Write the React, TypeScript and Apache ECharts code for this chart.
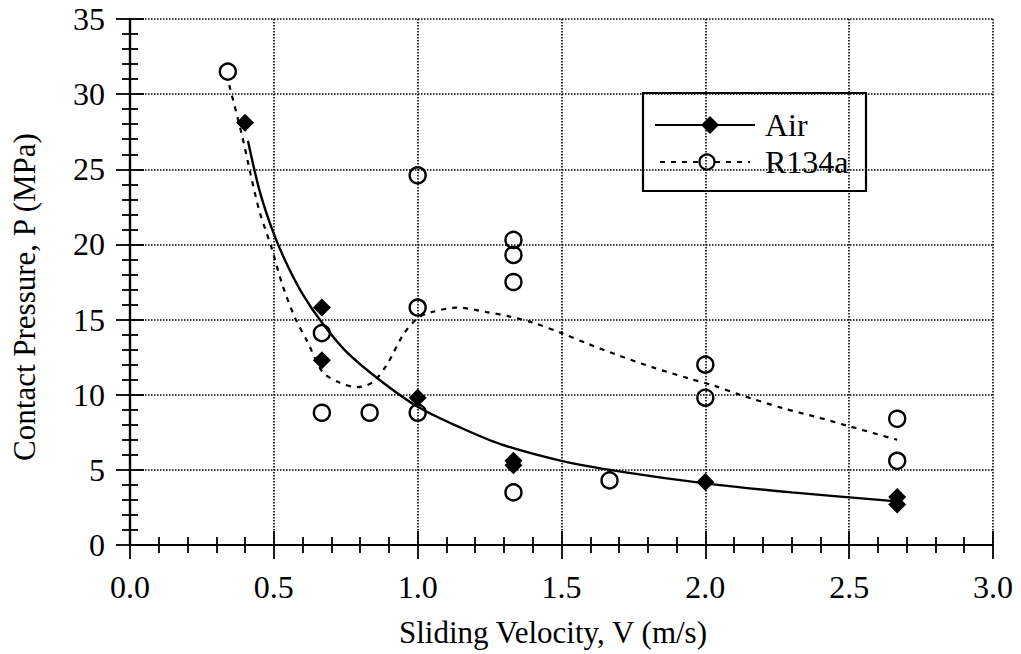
import React, { useEffect, useRef } from "react";
import * as echarts from "echarts";

// Measured data points
const airV = [0.4, 0.667, 0.667, 1.0, 1.333, 1.333, 2.0, 2.667, 2.667];
const airP = [28.1, 15.8, 12.3, 9.8, 5.6, 5.3, 4.2, 3.2, 2.7];

const r134V = [0.34, 0.667, 0.667, 0.833, 1.0, 1.0, 1.0, 1.333, 1.333, 1.333, 1.333, 1.667, 2.0, 2.0, 2.667, 2.667];
const r134P = [31.5, 14.1, 8.8, 8.8, 24.6, 15.8, 8.8, 20.3, 19.3, 17.5, 3.5, 4.3, 12.0, 9.8, 8.4, 5.6];

// Fitted curves
const airFitV = [0.41, 0.45, 0.5, 0.55, 0.6, 0.667, 0.75, 0.86, 1.0, 1.15, 1.29, 1.5, 1.7, 2.0, 2.3, 2.667];
const airFitP = [26.9, 23.6, 20.7, 18.5, 16.7, 14.8, 12.9, 11.1, 9.2, 7.8, 6.7, 5.6, 4.9, 4.1, 3.5, 2.9];

const r134FitV = [0.345, 0.39, 0.42, 0.45, 0.49, 0.53, 0.574, 0.615, 0.67, 0.73, 0.79, 0.845, 0.893, 0.95, 1.0, 1.05, 1.137, 1.24, 1.32, 1.4, 1.5, 1.59, 1.7, 1.82, 1.94, 2.03, 2.12, 2.27, 2.39, 2.5, 2.667];
const r134FitP = [30.6, 27.2, 24.6, 22.2, 19.9, 17.3, 15.1, 13.6, 11.5, 10.8, 10.5, 10.85, 12.0, 14.0, 15.1, 15.5, 15.8, 15.5, 15.2, 14.8, 14.1, 13.4, 12.6, 11.8, 11.1, 10.6, 10.0, 9.1, 8.5, 7.9, 7.0];

const xTitle = "Sliding Velocity, V (m/s)";
const yTitle = "Contact Pressure, P (MPa)";
const legendNames = ["Air", "R134a"];

const FONT = "Liberation Serif, Times New Roman, serif";

const zip = (xs: number[], ys: number[]) => xs.map((x, i) => [x, ys[i]]);

export default function App() {
  const ref = useRef<HTMLDivElement>(null);
  useEffect(() => {
    const chart = echarts.init(ref.current!, null, { renderer: "svg" });
    const axisLine = { show: true, lineStyle: { color: "#000", width: 2.2 } };
    const axisTick = { show: true, inside: true, length: 14, lineStyle: { color: "#000", width: 1.8 } };
    const minorTick = { show: true, splitNumber: 5, length: 8, lineStyle: { color: "#000", width: 1.8 } };
    const splitLine = { show: true, lineStyle: { color: "#000", width: 1.6, type: [1.5, 1.5] } };
    const label = { color: "#000", fontSize: 32, fontFamily: FONT };

    chart.setOption({
      animation: false,
      backgroundColor: "#fff",
      grid: { left: 130, right: 28, top: 19, bottom: 109, containLabel: false },
      xAxis: [
        {
          type: "value", min: 0, max: 3, interval: 0.5, position: "bottom",
          axisLine, axisTick, minorTick, splitLine,
          minorSplitLine: { show: false },
          axisLabel: { ...label, margin: 26, formatter: (v: number) => v.toFixed(1) },
        },
        {
          type: "value", min: 0, max: 3, interval: 0.5, position: "top",
          axisLine, axisTick, minorTick, splitLine: { show: false },
          axisLabel: { show: false },
        },
      ],
      yAxis: [
        {
          type: "value", min: 0, max: 35, interval: 5, position: "left",
          axisLine, axisTick, minorTick, splitLine,
          minorSplitLine: { show: false },
          axisLabel: { ...label, margin: 25 },
        },
        {
          type: "value", min: 0, max: 35, interval: 5, position: "right",
          axisLine, axisTick, minorTick, splitLine: { show: false },
          axisLabel: { show: false },
        },
      ],
      series: [
        {
          type: "line", name: "Air fit", data: zip(airFitV, airFitP),
          showSymbol: false, smooth: 0.3, silent: true,
          lineStyle: { color: "#000", width: 2.4 },
        },
        {
          type: "line", name: "R134a fit", data: zip(r134FitV, r134FitP),
          showSymbol: false, smooth: 0.3, silent: true,
          lineStyle: { color: "#000", width: 2.2, type: [5, 6] },
        },
        {
          type: "scatter", name: legendNames[0], data: zip(airV, airP),
          symbol: "diamond", symbolSize: 18,
          itemStyle: { color: "#000", opacity: 1 }, z: 5,
        },
        {
          type: "scatter", name: legendNames[1], data: zip(r134V, r134P),
          symbol: "circle", symbolSize: 16,
          itemStyle: { color: "rgba(0,0,0,0)", borderColor: "#000", borderWidth: 2.4, opacity: 1 }, z: 5,
        },
      ],
      graphic: [
        {
          type: "text", x: 24, y: 297, rotation: Math.PI / 2,
          style: { text: yTitle, fontSize: 31, fontFamily: FONT, fill: "#000", align: "center", verticalAlign: "middle" },
        },
        {
          type: "text", x: 553, y: 632,
          style: { text: xTitle, fontSize: 31, fontFamily: FONT, fill: "#000", align: "center", verticalAlign: "middle" },
        },
        {
          type: "group", z: 100,
          children: [
            { type: "rect", shape: { x: 643, y: 93, width: 223, height: 98 }, style: { fill: "#fff", stroke: "#000", lineWidth: 2.2 } },
            { type: "line", shape: { x1: 655, y1: 125, x2: 755, y2: 125 }, style: { stroke: "#000", lineWidth: 2.2 } },
            { type: "polygon", shape: { points: [[710, 116], [719, 125], [710, 134], [701, 125]] }, style: { fill: "#000" } },
            { type: "text", x: 765, y: 125, style: { text: legendNames[0], fontSize: 32, fontFamily: FONT, fill: "#000", align: "left", verticalAlign: "middle" } },
            { type: "line", shape: { x1: 660, y1: 162, x2: 750, y2: 162 }, style: { stroke: "#000", lineWidth: 2, lineDash: [5, 6] } },
            { type: "circle", shape: { cx: 707, cy: 162, r: 7.5 }, style: { fill: "#fff", stroke: "#000", lineWidth: 2.2 } },
            { type: "text", x: 765, y: 162, style: { text: legendNames[1], fontSize: 32, fontFamily: FONT, fill: "#000", align: "left", verticalAlign: "middle" } },
          ],
        },
      ],
    });
    return () => chart.dispose();
  }, []);
  return <div ref={ref} style={{ position: "absolute", left: 0, top: 0, width: 1021, height: 654 }} />;
}
